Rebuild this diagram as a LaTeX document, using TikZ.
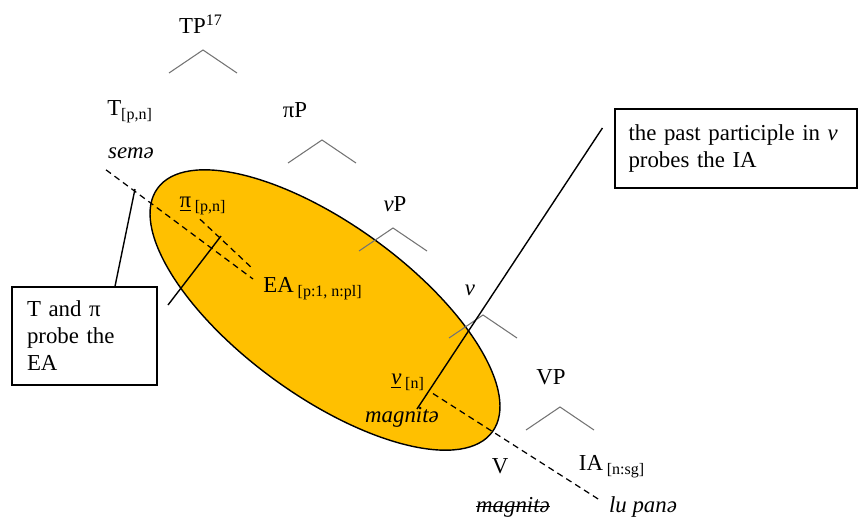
\documentclass[tikz,border=0pt]{standalone}
\usepackage{fontspec}
\setmainfont{Liberation Serif}
\usepackage{xcolor}
\definecolor{blobgold}{HTML}{FFC000}

\begin{document}
\begin{tikzpicture}[x=0.02cm, y=-0.02cm,
  lbl/.style={inner sep=0pt, font=\fontsize{13}{15}\selectfont},
  branch/.style={draw=black!55, line width=0.6pt},
  probe/.style={dash pattern=on 3.5pt off 2.5pt, line width=0.7pt},
  pointer/.style={line width=0.8pt},
  notebox/.style={draw, line width=0.7pt, align=left, inner xsep=0.3cm, font=\fontsize{13}{15.4}\selectfont}]
  \useasboundingbox (0,0) rectangle (858,524);
  % the agreement domain
  \draw[fill=blobgold, line width=0.8pt, rotate around={-36:(325,310)}] (325,310) ellipse [x radius=207, y radius=86];

  % tree labels
  \node[lbl] (tp) at (201,24) {TP\textsuperscript{17}};
  \node[lbl] (t) at (130,112) {T\textsubscript{[p,n]}};
  \node[lbl] (sema) at (131,153) {\textit{semə}};
  \node[lbl] (pip) at (295,110) {πP};
  \node[lbl] (pi) at (203,206) {\underline{π}\,\textsubscript{[p,n]}};
  \node[lbl] (ea) at (313,289) {EA\,\textsubscript{[p:1, n:pl]}};
  \node[lbl] (vp) at (395,204) {\textit{v}P};
  \node[lbl] (v) at (470,290) {\textit{v}};
  \node[lbl] (vn) at (408,382) {\underline{\textit{v}}\,\textsubscript{[n]}};
  \node[lbl] (mag) at (402,417) {\textit{magnitə}};
  \node[lbl] (VP) at (551,377) {VP};
  \node[lbl] (V) at (500,466) {V};
  \node[lbl] (ia) at (612,467) {IA\,\textsubscript{[n:sg]}};
  \node[lbl] (magx) at (513,507) {\textit{magnitə}};
  \draw[line width=0.6pt] ([yshift=3pt]magx.base west) -- ([yshift=3pt]magx.base east);
  \node[lbl] (lupana) at (643,507) {\textit{lu panə}};

  % branches
  \foreach \x/\y in {203/50, 322/140, 393/228, 483/315, 560/407}
    \draw[branch] (\x-34,\y+23) -- (\x,\y) -- (\x+34,\y+23);

  % agreement paths
  \coordinate (tgoal) at (253,279);
  \coordinate (pigoal) at (253,269);
  \draw[probe] ([shift={(-0.5cm,-0.22cm)}]sema.south) -- (tgoal);
  \draw[probe] ([shift={(-0.06cm,-0.08cm)}]pi.south) -- (pigoal);
  \draw[probe] ([shift={(0.5cm,-0.06cm)}]vn.south) -- ([shift={(-0.18cm,0.14cm)}]lupana.west);

  % comment boxes
  \node[notebox, minimum width=2.9cm, minimum height=1.96cm, text width=2.3cm] (tpnote) at (84.5,336) {T and π\\probe the\\EA};
  \node[notebox, inner xsep=0.27cm, minimum width=4.84cm, minimum height=1.58cm, text width=4.3cm] (pastnote) at (736,148.5) {the past participle in \textit{v}\\probes the IA};

  \coordinate (tline) at (135,189);
  \coordinate (bracketlo) at (168,305);
  \coordinate (brackethi) at (221,236);
  \coordinate (vstart) at (417,409);
  \draw[pointer] ([xshift=0.61cm]tpnote.north) -- (tline);
  \draw[pointer] (bracketlo) -- (brackethi);
  \draw[pointer] (vstart) -- ([shift={(-0.24cm,0.41cm)}]pastnote.west);
\end{tikzpicture}
\end{document}
